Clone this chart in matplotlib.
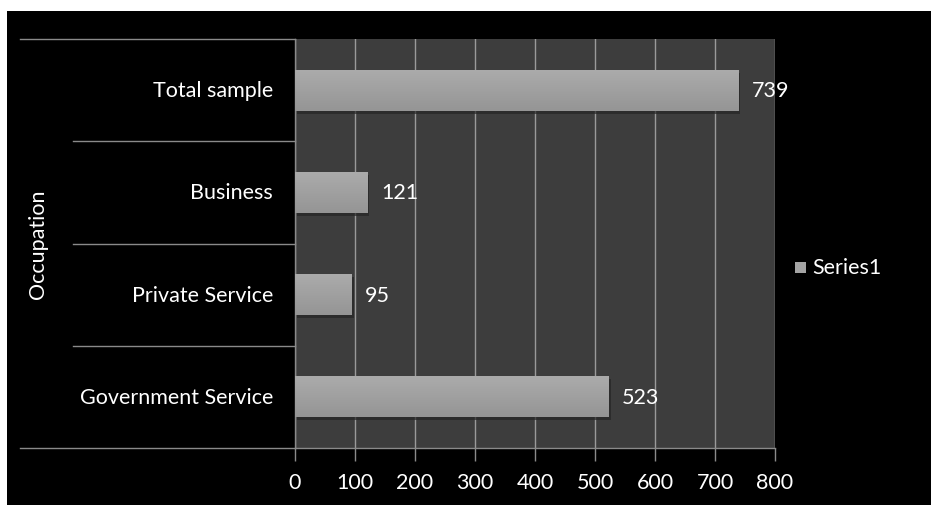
import matplotlib
matplotlib.use("Agg")
import matplotlib.pyplot as plt
from matplotlib.patches import Rectangle
from matplotlib.lines import Line2D
import numpy as np

categories = ["Government Service", "Private Service", "Business", "Total sample"]
values = [523, 95, 121, 739]
series_name = "Series1"
axis_title = "Occupation"
xticks = [0, 100, 200, 300, 400, 500, 600, 700, 800]

W, H = 931, 506
FS = 15.5
fig = plt.figure(figsize=(W / 100, H / 100), dpi=100, facecolor="white")
plt.rcParams['font.family'] = ['Lato', 'DejaVu Sans']

# black chart area
fig.patches.append(Rectangle((7 / W, 0), (W - 7) / W, 1 - 12 / H, transform=fig.transFigure,
                             facecolor="black", edgecolor="none", zorder=-10))

left, right, top, bottom = 295, 775, 40, 449
ax = fig.add_axes([left / W, 1 - bottom / H, (right - left) / W, (bottom - top) / H])
ax.set_zorder(2)
ax.set_facecolor("#3d3d3d")

y = np.arange(len(categories))
bars = ax.barh(y, values, height=0.4, color="#a4a4a4", edgecolor="none", zorder=3)

# gradient + shadow on bars
grad = np.linspace(0.0, 1.0, 50).reshape(-1, 1)
cmap = matplotlib.colors.LinearSegmentedColormap.from_list("g", ["#959595", "#ababab"])
for b in bars:
    x0, y0, w, h = b.get_x(), b.get_y(), b.get_width(), b.get_height()
    sh = Rectangle((x0 + 3, y0 - 0.03), w, h, facecolor="#262626", edgecolor="none", zorder=2, alpha=0.7)
    ax.add_patch(sh)
    im = ax.imshow(grad, extent=(x0, x0 + w, y0, y0 + h), aspect="auto",
                   cmap=cmap, zorder=4, origin="lower")
    im.set_clip_path(b)

for yi, v in zip(y, values):
    ax.text(v + 22, yi, str(v), color="white", fontsize=FS, va="center", ha="left", zorder=5)

ax.set_xlim(0, 800)
ax.set_ylim(-0.5, len(categories) - 0.5)
ax.set_xticks(xticks)
ax.set_xticklabels([str(t) for t in xticks], color="white", fontsize=FS)
ax.tick_params(axis="x", direction="out", length=9, width=1, color="#8a8a8a", pad=8)
ax.set_yticks([])
ax.grid(axis="x", color="#9a9a9a", linewidth=1, zorder=1)
ax.set_axisbelow(True)
for s in ["top", "right"]:
    ax.spines[s].set_visible(False)
for s in ["left", "bottom"]:
    ax.spines[s].set_color("#8a8a8a")
    ax.spines[s].set_linewidth(1)

# category labels
for yi, c in zip(y, categories):
    ax.text(-22 / 480 * 800, yi, c, color="white", fontsize=FS, ha="right", va="center",
            transform=ax.transData, clip_on=False)

# category separator lines
outer_x = (20 - left) / (right - left)
inner_x = (73 - left) / (right - left)
for k, yb in enumerate(np.arange(-0.5, len(categories), 1.0)):
    xs = outer_x if k in (0, len(categories)) else inner_x
    frac = (yb + 0.5) / len(categories)
    ax.add_line(Line2D([xs, 0], [frac, frac], transform=ax.transAxes, color="#8a8a8a",
                       linewidth=1, clip_on=False))

fig.text(38 / W, 1 - 244 / H, axis_title, rotation=90, color="white", fontsize=FS,
         ha="center", va="center")

# legend
fig.patches.append(Rectangle((795 / W, 1 - 274 / H), 11 / W, 11 / H, transform=fig.transFigure,
                             facecolor="#a4a4a4", edgecolor="none"))
fig.text(812 / W, 1 - 268 / H, series_name, color="white", fontsize=FS, ha="left", va="center")

fig.savefig("out.png", dpi=100, facecolor="white")
